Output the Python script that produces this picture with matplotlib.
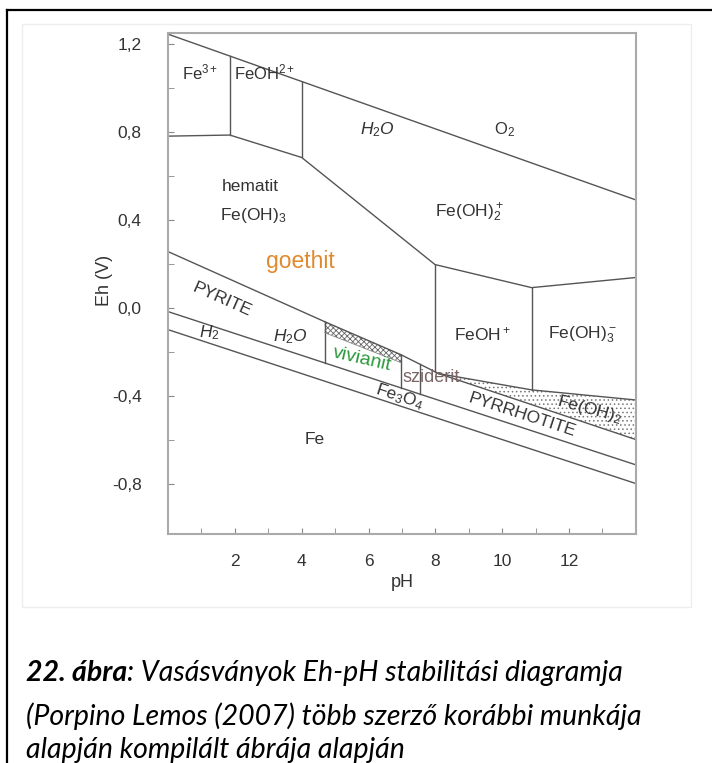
import matplotlib
matplotlib.use("Agg")
import matplotlib.pyplot as plt
from matplotlib.lines import Line2D
from matplotlib.patches import Rectangle

plt.rcParams["font.family"] = ["Liberation Sans", "DejaVu Sans"]
plt.rcParams["mathtext.fontset"] = "custom"
plt.rcParams["mathtext.rm"] = "Liberation Sans"
plt.rcParams["mathtext.it"] = "Liberation Sans:italic"
plt.rcParams["hatch.linewidth"] = 0.6

# stability field boundaries (pH, Eh in V)
water_upper_ph = [0, 14]
water_upper_eh = [1.244, 0.49]

fe3_bottom_ph = [0, 1.85, 4.0, 7.99, 10.88, 14]
fe3_bottom_eh = [0.78, 0.785, 0.683, 0.196, 0.091, 0.137]

vert_ph = [1.85, 4.0, 7.99, 10.88]
vert_top = [1.144, 1.028, 0.196, 0.091]
vert_bot = [0.785, 0.683, -0.292, -0.374]

pyrite_top_ph = [0, 4.69]
pyrite_top_eh = [0.255, -0.064]

line_b_ph = [0, 14]
line_b_eh = [-0.018, -0.715]
line_c_ph = [0, 14]
line_c_eh = [-0.10, -0.80]

viv_ph = [4.69, 6.97]
viv_top = [-0.064, -0.214]
viv_bot = [-0.114, -0.25]

sid_ph = [6.97, 8.1]
sid_eh = [-0.214, -0.30]

feoh2_ph = [8.1, 10.88, 14]
feoh2_top = [-0.30, -0.374, -0.42]
feoh2_bot = [-0.30, -0.441, -0.60]

# verticals that end on line B
low_vert_ph = [4.69, 6.97, 7.54]
low_vert_top = [-0.064, -0.214, -0.257]

line_col = "#555555"


def line_b(ph):
    return line_b_eh[0] + (line_b_eh[1] - line_b_eh[0]) * ph / 14


fig = plt.figure(figsize=(7.12, 7.63), dpi=100)
ax = fig.add_axes([0.236, 0.300, 0.657, 0.657])

# faint outline of the embedded picture and the page frame
fig.add_artist(Rectangle((0.031, 0.204), 0.94, 0.764, transform=fig.transFigure,
                         fill=False, ec="#eeeeee", lw=1))
fig.add_artist(Line2D([0.010, 0.010], [0, 0.987], transform=fig.transFigure,
                      color="black", lw=1.6))
fig.add_artist(Line2D([0.010, 1.0], [0.987, 0.987], transform=fig.transFigure,
                      color="black", lw=1.6))

kw = dict(color=line_col, lw=1.0)
ax.plot(water_upper_ph, water_upper_eh, **kw)
ax.plot(fe3_bottom_ph, fe3_bottom_eh, **kw)
for p, t, b in zip(vert_ph, vert_top, vert_bot):
    ax.plot([p, p], [b, t], **kw)
ax.plot(pyrite_top_ph, pyrite_top_eh, **kw)
ax.plot(line_b_ph, line_b_eh, **kw)
ax.plot(line_c_ph, line_c_eh, **kw)
ax.plot(sid_ph, sid_eh, **kw)
ax.plot(feoh2_ph, feoh2_top, **kw)
ax.plot(feoh2_ph, feoh2_bot, **kw)
ax.plot(viv_ph, viv_top, **kw)
for p, t in zip(low_vert_ph, low_vert_top):
    ax.plot([p, p], [line_b(p), t], **kw)

ax.fill_between(viv_ph, viv_bot, viv_top, facecolor="white",
                edgecolor="#666666", hatch="xxxxxx", lw=0)
ax.plot(viv_ph, viv_bot, color="#888888", lw=0.6)
ax.fill_between(feoh2_ph, feoh2_bot, feoh2_top, facecolor="white",
                edgecolor="#777777", hatch="....", lw=0)

tc = "#333333"
fs = 12
ax.text(0.96, 1.07, r"Fe$^{3+}$", color=tc, fontsize=fs, ha="center", va="center")
ax.text(2.9, 1.07, r"FeOH$^{2+}$", color=tc, fontsize=fs, ha="center", va="center")
ax.text(6.28, 0.81, r"$H_2O$", color=tc, fontsize=fs + 0.5, ha="center", va="center")
ax.text(10.08, 0.81, r"O$_2$", color=tc, fontsize=fs, ha="center", va="center")
ax.text(2.45, 0.55, "hematit", color=tc, fontsize=fs + 0.5, ha="center", va="center")
ax.text(2.54, 0.42, r"Fe(OH)$_3$", color=tc, fontsize=fs + 0.5, ha="center", va="center")
ax.text(9.03, 0.43, r"Fe(OH)$^+_2$", color=tc, fontsize=fs + 0.5, ha="center", va="center")
ax.text(3.95, 0.21, "goethit", color="#e0892e", fontsize=16.5, ha="center", va="center")
ax.text(1.62, 0.036, "PYRITE", color=tc, fontsize=fs + 0.5, ha="center", va="center",
        rotation=-24)
ax.text(1.23, -0.114, r"$H_2$", color=tc, fontsize=fs + 0.5, ha="center", va="center")
ax.text(3.65, -0.13, r"$H_2O$", color=tc, fontsize=fs + 0.5, ha="center", va="center")
ax.text(5.8, -0.237, "vivianit", color="#2e9a3e", fontsize=14, ha="center",
        va="center", rotation=-13)
ax.text(7.87, -0.319, "sziderit", color="#7a6464", fontsize=13, ha="center",
        va="center")
ax.text(6.94, -0.405, r"Fe$_3$O$_4$", color=tc, fontsize=fs + 0.5, ha="center",
        va="center", rotation=-18)
ax.text(9.42, -0.123, r"FeOH$^+$", color=tc, fontsize=fs + 0.5, ha="center", va="center")
ax.text(12.4, -0.123, r"Fe(OH)$^-_3$", color=tc, fontsize=fs + 0.5, ha="center",
        va="center")
ax.text(12.6, -0.465, r"Fe(OH)$_2$", color=tc, fontsize=fs + 0.5, ha="center",
        va="center", rotation=-15)
ax.text(10.6, -0.49, "PYRRHOTITE", color=tc, fontsize=fs + 0.5, ha="center",
        va="center", rotation=-18)
ax.text(4.4, -0.60, "Fe", color=tc, fontsize=fs + 0.5, ha="center", va="center")

ax.set_xlim(0, 14)
ax.set_ylim(-1.03, 1.25)
ax.set_xticks([2, 4, 6, 8, 10, 12])
ax.set_xticks([1, 3, 5, 7, 9, 11, 13], minor=True)
ax.set_yticks([-0.8, -0.4, 0.0, 0.4, 0.8, 1.2])
ax.set_yticklabels(["-0,8", "-0,4", "0,0", "0,4", "0,8", "1,2"])
ax.set_yticks([-0.6, -0.2, 0.2, 0.6, 1.0], minor=True)
ax.tick_params(which="both", direction="in", length=4, color="#888888",
               labelcolor=tc, labelsize=12.5)
ax.tick_params(axis="y", pad=19)
ax.tick_params(axis="x", pad=14)
for s in ax.spines.values():
    s.set_color("#aaaaaa")
    s.set_linewidth(1.5)
ax.set_ylabel("Eh (V)", color=tc, fontsize=13)
ax.yaxis.set_label_coords(-0.117, 0.507)
ax.set_xlabel("pH", color=tc, fontsize=13, labelpad=4)

# caption under the figure
cap_font = "Lato"
cap_size = 20.5
t1 = fig.text(0.036, 0.118, "22. ábra", fontsize=cap_size, family=cap_font,
              weight="bold", style="italic", va="center")
fig.canvas.draw()
bb = t1.get_window_extent().transformed(fig.transFigure.inverted())
fig.text(bb.x1, 0.118, ": Vasásványok Eh-pH stabilitási diagramja",
         fontsize=cap_size, family=cap_font, style="italic", va="center")
fig.text(0.036, 0.061, "(Porpino Lemos (2007) több szerző korábbi munkája",
         fontsize=cap_size, family=cap_font, style="italic", va="center")
fig.text(0.036, 0.017, "alapján kompilált ábrája alapján",
         fontsize=cap_size, family=cap_font, style="italic", va="center")

fig.savefig("out.png", dpi=100)
